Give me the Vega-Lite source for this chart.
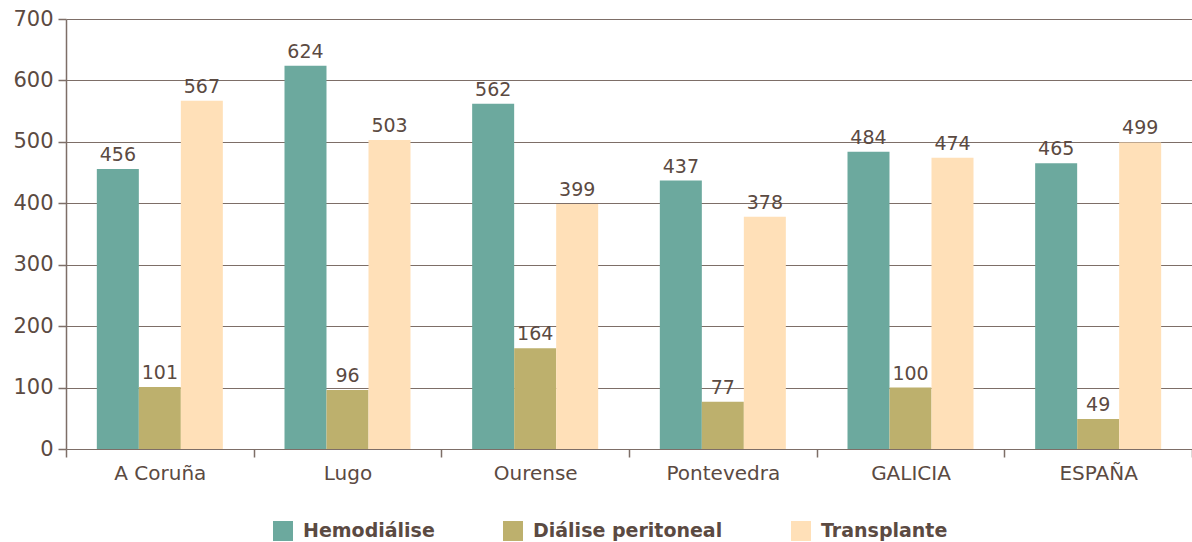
{
  "$schema": "https://vega.github.io/schema/vega-lite/v6.json",
  "width": 1126,
  "height": 430,
  "autosize": {"type": "none"},
  "padding": {"left": 66, "top": 19, "right": 0, "bottom": 93},
  "background": "white",
  "config": {
    "view": {"stroke": null},
    "font": "DejaVu Sans",
    "axis": {"labelColor": "#5b4a42", "domainColor": "#7d6e67", "tickColor": "#7d6e67", "gridColor": "#7d6e67", "domainWidth": 1.5, "tickWidth": 1.5, "gridWidth": 1.2, "titleColor": "#5b4a42"}
  },
  "data": {
    "values": [
      {"region": "A Coruña", "tipo": "Hemodiálise", "valor": 456},
      {"region": "A Coruña", "tipo": "Diálise peritoneal", "valor": 101},
      {"region": "A Coruña", "tipo": "Transplante", "valor": 567},
      {"region": "Lugo", "tipo": "Hemodiálise", "valor": 624},
      {"region": "Lugo", "tipo": "Diálise peritoneal", "valor": 96},
      {"region": "Lugo", "tipo": "Transplante", "valor": 503},
      {"region": "Ourense", "tipo": "Hemodiálise", "valor": 562},
      {"region": "Ourense", "tipo": "Diálise peritoneal", "valor": 164},
      {"region": "Ourense", "tipo": "Transplante", "valor": 399},
      {"region": "Pontevedra", "tipo": "Hemodiálise", "valor": 437},
      {"region": "Pontevedra", "tipo": "Diálise peritoneal", "valor": 77},
      {"region": "Pontevedra", "tipo": "Transplante", "valor": 378},
      {"region": "GALICIA", "tipo": "Hemodiálise", "valor": 484},
      {"region": "GALICIA", "tipo": "Diálise peritoneal", "valor": 100},
      {"region": "GALICIA", "tipo": "Transplante", "valor": 474},
      {"region": "ESPAÑA", "tipo": "Hemodiálise", "valor": 465},
      {"region": "ESPAÑA", "tipo": "Diálise peritoneal", "valor": 49},
      {"region": "ESPAÑA", "tipo": "Transplante", "valor": 499}
    ]
  },
  "encoding": {
    "x": {
      "field": "region", "type": "nominal", "sort": null,
      "scale": {"paddingInner": 0, "paddingOuter": 0},
      "axis": {"title": null, "labelAngle": 0, "labelFontSize": 20, "labelPadding": 6, "tickBand": "extent", "tickSize": 8, "domain": false, "grid": false}
    },
    "xOffset": {"field": "tipo", "type": "nominal", "sort": ["Hemodiálise", "Diálise peritoneal", "Transplante"], "scale": {"paddingInner": 0, "paddingOuter": 0.734}},
    "y": {
      "field": "valor", "type": "quantitative",
      "scale": {"domain": [0, 700], "nice": false},
      "axis": {"title": null, "values": [0, 100, 200, 300, 400, 500, 600, 700], "labelFontSize": 21, "labelPadding": 5, "tickSize": 8, "grid": true, "domain": true}
    }
  },
  "layer": [
    {
      "mark": {"type": "bar"},
      "encoding": {
        "color": {
          "field": "tipo", "type": "nominal",
          "scale": {"domain": ["Hemodiálise", "Diálise peritoneal", "Transplante"], "range": ["#6ca99e", "#bdb06d", "#ffe0b8"]},
          "legend": {
            "title": null, "orient": "none", "direction": "horizontal",
            "legendX": 207, "legendY": 502, "padding": 0,
            "symbolType": "square", "symbolSize": 400, "symbolStrokeWidth": 0,
            "labelFontSize": 19, "labelFontWeight": "bold", "labelColor": "#5b4a42",
            "labelOffset": 10, "columnPadding": 68, "labelLimit": 400, "labelFont": "DejaVu Sans"
          }
        }
      }
    },
    {
      "mark": {"type": "text", "baseline": "alphabetic", "dy": -8, "fontSize": 19, "color": "#5b4a42"},
      "encoding": {"text": {"field": "valor", "type": "quantitative"}}
    }
  ]
}
